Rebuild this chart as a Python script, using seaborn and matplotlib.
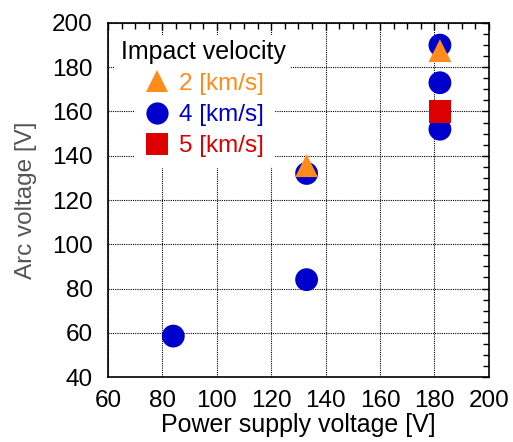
import pandas as pd
import seaborn as sns
import matplotlib.pyplot as plt
from matplotlib.lines import Line2D
from matplotlib.ticker import MultipleLocator

# data
velocity_labels = ['4 [km/s]', '2 [km/s]', '5 [km/s]']
supply_4 = [84, 133, 133, 182, 182, 182]
arc_4 = [58.5, 84, 132, 190, 173, 152]
supply_2 = [133, 182]
arc_2 = [135.5, 187.5]
supply_5 = [182]
arc_5 = [160]

colors = {'2 [km/s]': '#FF8C1A', '4 [km/s]': '#0000CC', '5 [km/s]': '#DD0000'}
markers = {'2 [km/s]': '^', '4 [km/s]': 'o', '5 [km/s]': 's'}

df = pd.concat([
    pd.DataFrame({'supply': supply_4, 'arc': arc_4, 'velocity': velocity_labels[0]}),
    pd.DataFrame({'supply': supply_2, 'arc': arc_2, 'velocity': velocity_labels[1]}),
    pd.DataFrame({'supply': supply_5, 'arc': arc_5, 'velocity': velocity_labels[2]}),
], ignore_index=True)

sns.set_style('white')
plt.rcParams['font.family'] = ['Liberation Sans', 'DejaVu Sans']

fig = plt.figure(figsize=(5.13, 4.42), dpi=100)
ax = fig.add_axes([0.2105, 0.147, 0.7425, 0.801])

sns.scatterplot(data=df, x='supply', y='arc', hue='velocity', style='velocity',
                palette=colors, markers=markers, s=270, linewidth=0,
                legend=False, ax=ax, zorder=3)

ax.set_xlim(60, 200)
ax.set_ylim(40, 200)
ax.xaxis.set_major_locator(MultipleLocator(20))
ax.yaxis.set_major_locator(MultipleLocator(20))
ax.xaxis.set_minor_locator(MultipleLocator(5))
ax.yaxis.set_minor_locator(MultipleLocator(5))
ax.tick_params(which='both', direction='in', top=True, right=True, colors='black',
               labelsize=17.5, width=1)
ax.tick_params(which='major', length=5)
ax.tick_params(which='minor', length=4)
ax.tick_params(axis='y', pad=11)
ax.tick_params(axis='x', pad=9)
ax.grid(True, which='major', color='black', linestyle=(0, (1, 1)), linewidth=0.8)
for sp in ax.spines.values():
    sp.set_color('black')
    sp.set_linewidth(1.2)

ax.set_xlabel('Power supply voltage [V]', fontsize=18, color='black', labelpad=1)
ax.set_ylabel('Arc voltage [V]', fontsize=17.5, color='#555555', labelpad=11)

order = ['2 [km/s]', '4 [km/s]', '5 [km/s]']
handles = [Line2D([], [], linestyle='none', marker=markers[k], color=colors[k],
                  markersize=16, markeredgewidth=0) for k in order]
leg = ax.legend(handles, order, loc='upper left', bbox_to_anchor=(0.069, 0.89),
                fontsize=17.5, frameon=True, facecolor='white', edgecolor='none',
                framealpha=1, handlelength=1.0, handletextpad=0.4,
                labelspacing=0.38, borderpad=0.45, borderaxespad=0)
leg.set_zorder(4)
for t, k in zip(leg.get_texts(), order):
    t.set_color(colors[k])

ax.text(0.034, 0.918, 'Impact velocity', transform=ax.transAxes, fontsize=18,
        va='center', ha='left', color='black', zorder=5,
        bbox=dict(facecolor='white', edgecolor='none', pad=4))

fig.savefig('out.png', dpi=100)
